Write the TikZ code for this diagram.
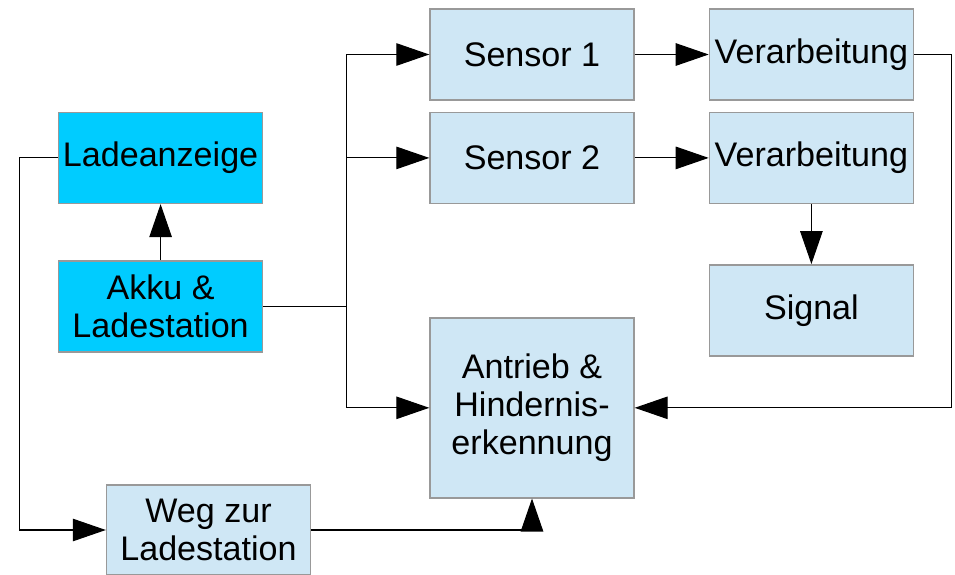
\documentclass[tikz,border=0pt]{standalone}
\usepackage{fontspec}
\setmainfont{Liberation Sans}
\usetikzlibrary{shapes, arrows.meta, positioning}
\definecolor{boxblue}{HTML}{CFE7F5}
\definecolor{boxcyan}{HTML}{00CCFF}
\definecolor{boxline}{HTML}{999999}
\tikzstyle{block} = [draw=boxline, line width=0.8pt, fill=boxblue,
	minimum width=4.08cm, minimum height=1.82cm, inner sep=0pt,
	align=center, font=\fontsize{19.4}{21.8}\selectfont]
\tikzstyle{akkublock} = [block, fill=boxcyan]
\tikzstyle{link} = [line width=0.6pt, -{Triangle[length=0.66cm,width=0.45cm]}]

\begin{document}
\begin{tikzpicture}
	\useasboundingbox (0,0) rectangle (19.1,-11.48);
	% draw rectangle nodes
	\node[block] (sensor1) at (10.64,-1.09) {Sensor 1};
	\node[block, below=0.22cm of sensor1] (sensor2) {Sensor 2};
	\node[block, right=1.48cm of sensor1] (verarb1) {Verarbeitung};
	\node[block, right=1.48cm of sensor2] (verarb2) {Verarbeitung};
	\node[block, below=1.2cm of verarb2] (signal) {Signal};
	\node[block, minimum height=3.6cm, below=2.26cm of sensor2] (antrieb) {
	Antrieb \&\\Hindernis-\\erkennung
	};
	\node[akkublock, left=3.32cm of sensor2] (anzeige) {Ladeanzeige};
	\node[akkublock, below=1.12cm of anzeige] (akku) {Akku \&\\Ladestation};
	\node[block, minimum height=1.8cm] (weg) at (4.17,-10.6) {Weg zur\\Ladestation};
	% Arrows
	\draw[link] (akku) -- (anzeige);
	\draw[link] (anzeige.west) -- ++(-0.76,0) |- (weg.west);
	\draw[line width=0.6pt] (akku.east) -- ++(1.66,0) coordinate (split);
	\draw[link] (split) |- (sensor1.west);
	\draw[link] (split) |- (sensor2.west);
	\draw[link] (split) |- (antrieb.west);
	\draw[link] (sensor1) -- (verarb1);
	\draw[link] (sensor2) -- (verarb2);
	\draw[link] (verarb2) -- (signal);
	\draw[link] (verarb1.east) -- ++(0.74,0) |- (antrieb.east);
	\draw[link] (weg.east) -| (antrieb.south);
\end{tikzpicture}
\end{document}
